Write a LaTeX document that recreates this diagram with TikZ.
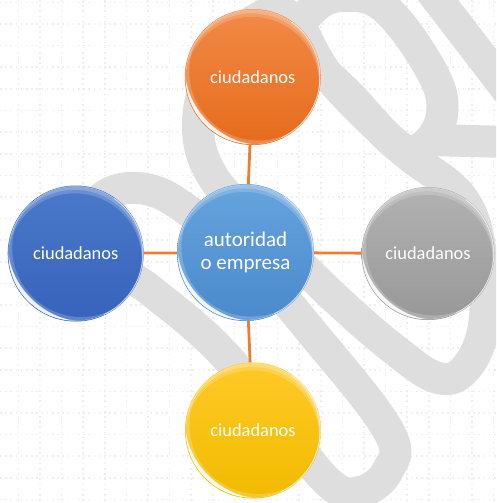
\documentclass[tikz,border=0pt]{standalone}
\usepackage{fontspec}
\setmainfont{Carlito}
\definecolor{wm}{HTML}{DEDEDE}
\definecolor{gridc}{HTML}{EEEEEE}
\definecolor{conn}{HTML}{ED7D31}
\definecolor{orT}{HTML}{F28A46}\definecolor{orB}{HTML}{E56B1C}
\definecolor{ceT}{HTML}{66A4DE}\definecolor{ceB}{HTML}{4A89CB}
\definecolor{blT}{HTML}{4A79CA}\definecolor{blB}{HTML}{3763BB}
\definecolor{grT}{HTML}{B2B2B2}\definecolor{grB}{HTML}{989898}
\definecolor{yeT}{HTML}{FFC927}\definecolor{yeB}{HTML}{F1BB00}
\pgfdeclarelayer{bglayer}\pgfdeclarelayer{connlayer}
\pgfsetlayers{bglayer,connlayer,main}
\newcommand\ballgloss[2]{%
 \begin{scope}[shift={(#1.center)},x=1pt,y=1pt]
  \pgfmathsetmacro\rA{#2-0.8}
  \pgfmathsetmacro\rB{#2+1.2}
  \pgfmathsetmacro\rC{#2+15.2}
  \pgfmathsetmacro\rD{#2+8}
  \begin{scope}
   \clip (0,0) circle (\rA pt);
   % soft top band
   \fill[white,opacity=.18,even odd rule] (0,0) circle (\rA pt) (-1pt,-7pt) circle (\rA pt);
   \fill[white,opacity=.2,even odd rule] (0,0) circle (\rA pt) (-1pt,-3.5pt) circle (\rA pt);
   % wide faint lower-left glow
   \fill[white,opacity=.2,even odd rule] (0,0) circle (\rA pt) (5.7pt,5.7pt) circle (\rB pt);
   % bright lower-left reflection
   \fill[white,opacity=.8,even odd rule] (0,0) circle (\rA pt) (14.1pt,14.1pt) circle (\rC pt);
   \fill[white,opacity=.55,even odd rule] (0,0) circle (\rA pt) (8.5pt,8.5pt) circle (\rD pt);
  \end{scope}
  \draw[white,opacity=.55,line width=1pt] (-65:\rA pt) arc[start angle=-65,end angle=55,radius=\rA pt];
 \end{scope}}
\tikzset{
 ball/.style={circle, minimum size=136pt, inner sep=0pt, text=white,
   font=\fontsize{18.4}{22}\selectfont},
 connector/.style={draw=conn, line width=2.8pt},
 wmband/.style={draw=wm, line width=32pt, line join=round, line cap=round},
 gridline/.style={draw=gridc, line width=1.6pt, dash pattern=on 1.6pt off 3.6pt}
}
\begin{document}
\begin{tikzpicture}[x=1pt,y=-1pt]
\useasboundingbox (0,0) rectangle (496,503);
\begin{pgfonlayer}{bglayer}
 \fill[white] (0,0) rectangle (496,503);
 \begin{scope}
  \clip (0,0) rectangle (496,503);
  \foreach \y in {2.5,24.1,...,503} \draw[gridline] (0,\y) -- (496,\y);
  \foreach \x in {18.3,39.9,...,496} \draw[gridline] (\x,0) -- (\x,503);
  \draw[wmband] plot[smooth cycle, tension=.65] coordinates {(198,125) (215,62) (255,20) (292,18) (330,78) (400,148) (462,198) (482,260) (484,325) (466,368) (438,378) (395,350) (335,298) (268,232) (215,180)};
  \draw[wmband] plot[smooth cycle, tension=.65] coordinates {(298,42) (312,10) (342,-4) (385,8) (432,72) (442,114) (424,146) (398,146) (350,96)};
  \draw[wmband] (425,-17) -- (515,100);
  \draw[wmband] (430,140) -- (510,142);
  \draw[wmband] plot[smooth cycle, tension=.65] coordinates {(95,215) (112,192) (150,190) (190,212) (250,262) (310,330) (388,430) (388,470) (360,492) (328,482) (270,410) (215,345) (150,290) (112,262)};
 \end{scope}
\end{pgfonlayer}
\node[ball, top color=orT, bottom color=orB] (top) at (252.8,77) {ciudadanos};
\node[ball, top color=blT, bottom color=blB] (left) at (75.7,253.5) {ciudadanos};
\node[ball, top color=grT, bottom color=grB, minimum size=133pt] (right) at (428,253.5) {ciudadanos};
\node[ball, top color=yeT, bottom color=yeB] (bottom) at (253,430.5) {ciudadanos};
\node[ball, top color=ceT, bottom color=ceB, minimum size=137pt, align=center,
      font=\fontsize{21}{23}\selectfont] (mid) at (245.5,252.5) {autoridad\\o empresa};
\ballgloss{top}{68}
\ballgloss{left}{68}
\ballgloss{right}{66.5}
\ballgloss{bottom}{68}
\ballgloss{mid}{68.5}
\begin{pgfonlayer}{connlayer}
 \draw[connector] (mid) -- (top);
 \draw[connector] (mid) -- (left);
 \draw[connector] (mid) -- (right);
 \draw[connector] (mid) -- (bottom);
\end{pgfonlayer}
\end{tikzpicture}
\end{document}
